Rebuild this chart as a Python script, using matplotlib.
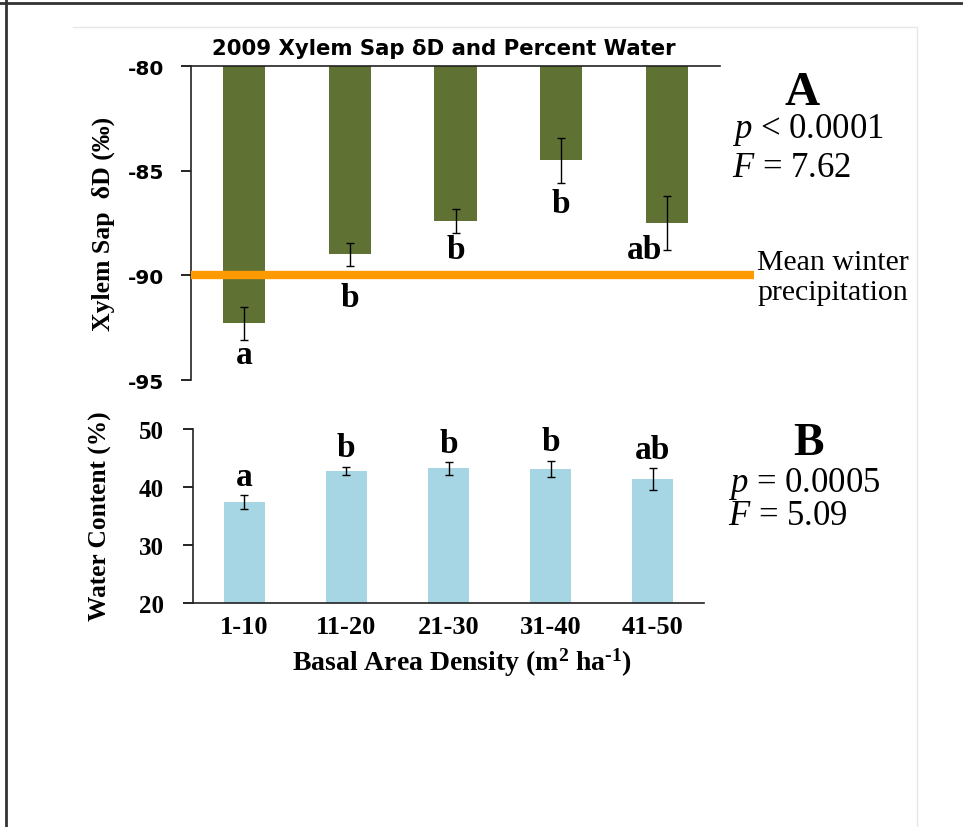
import numpy as np
import matplotlib
matplotlib.use('Agg')
import matplotlib.pyplot as plt
from matplotlib.lines import Line2D

# data
categories = ['1-10', '11-20', '21-30', '31-40', '41-50']
sap_dD = [-92.3, -89.0, -87.4, -84.5, -87.5]
sap_err = [0.8, 0.55, 0.57, 1.08, 1.3]
sap_groups = ['a', 'b', 'b', 'b', 'ab']
winter_precip = -90.0
water = [37.4, 42.8, 43.2, 43.1, 41.3]
water_err = [1.2, 0.7, 1.1, 1.4, 1.9]
water_groups = ['a', 'b', 'b', 'b', 'ab']

plt.rcParams['mathtext.fontset'] = 'custom'
plt.rcParams['mathtext.rm'] = 'Liberation Serif'
plt.rcParams['mathtext.it'] = 'Liberation Serif:italic'
plt.rcParams['mathtext.bf'] = 'Liberation Serif:bold'

W, H = 963, 828
def fx(px):
    return px / W
def fy(py):
    return 1 - py / H

serif = dict(family='Liberation Serif')
serif_b = dict(family='Liberation Serif', weight='bold')
sans_b = dict(family='DejaVu Sans', weight='bold')

fig = plt.figure(figsize=(9.63, 8.28), dpi=100)
x = np.arange(len(categories))

# ---- panel A
ax1 = fig.add_axes([fx(191), fy(381), 529 / W, 314 / H])
ax1.bar(x, np.array(sap_dD) + 80, bottom=-80, width=0.4, color='#607233', zorder=2)
ax1.errorbar(x, sap_dD, yerr=sap_err, fmt='none', ecolor='black', elinewidth=1,
             capsize=3, capthick=1, zorder=5)
ax1.plot([-0.5, 4.82], [winter_precip] * 2, color='#ff9900', lw=6, clip_on=False,
         solid_capstyle='butt', zorder=4)
ax1.set_xlim(-0.5, 4.5)
ax1.set_ylim(-95, -80)
ax1.set_xticks([])
ax1.set_yticks([-80, -85, -90, -95])
ax1.set_yticklabels(['-80', '-85', '-90', '-95'], fontdict=dict(size=14.5, **sans_b))
ax1.tick_params(axis='y', length=7, width=1.2, pad=12)
for s in ['right', 'bottom']:
    ax1.spines[s].set_visible(False)
for s in ['left', 'top']:
    ax1.spines[s].set_linewidth(1.2)
    ax1.spines[s].set_color('#222222')

offs = [(0, -14), (0, -32), (0, -17), (0, -21), (-23, 1)]
for i, g in enumerate(sap_groups):
    ax1.annotate(g, (x[i], sap_dD[i] - sap_err[i]), xytext=offs[i], textcoords='offset pixels',
                 ha='center', va='center', fontsize=24, zorder=6, **serif_b)

# ---- panel B
ax2 = fig.add_axes([fx(193), fy(604), 511 / W, 174 / H])
ax2.bar(x, water, width=0.4, color='#a6d6e3', zorder=2)
ax2.errorbar(x, water, yerr=water_err, fmt='none', ecolor='black', elinewidth=1,
             capsize=3, capthick=1, zorder=3)
ax2.set_xlim(-0.5, 4.5)
ax2.set_ylim(20, 50)
ax2.set_yticks([20, 30, 40, 50])
ax2.set_yticklabels(['20', '30', '40', '50'], fontdict=dict(size=18, **serif_b))
ax2.set_xticks(x)
ax2.set_xticklabels(categories, fontdict=dict(size=19, **serif_b))
ax2.tick_params(axis='y', length=7, width=1.2, pad=14)
ax2.tick_params(axis='x', length=0, pad=9)
for s in ['right', 'top']:
    ax2.spines[s].set_visible(False)
for s in ['left', 'bottom']:
    ax2.spines[s].set_linewidth(1.2)
    ax2.spines[s].set_color('#222222')

for i, g in enumerate(water_groups):
    ax2.annotate(g, (x[i], water[i] + water_err[i]), xytext=(0, 19), textcoords='offset pixels',
                 ha='center', va='center', fontsize=24, **serif_b)

# ---- labels and annotations
fig.text(fx(444), fy(55), '2009 Xylem Sap δD and Percent Water', ha='center', va='baseline',
         fontsize=15.3, **sans_b)
fig.text(fx(103), fy(224), 'Xylem Sap  δD (‰)', rotation=90, ha='center', va='center',
         fontsize=18.5, **serif_b)
fig.text(fx(100), fy(516), 'Water Content (%)', rotation=90, ha='center', va='center',
         fontsize=18.3, **serif_b)
fig.text(fx(462), fy(663), 'Basal Area Density (m$^{\\mathbf{2}}$ ha$^{\\mathbf{\u2010 1}}$)',
         ha='center', va='center', fontsize=20, **serif_b)

fig.text(fx(802), fy(105), 'A', ha='center', va='baseline', fontsize=35, **serif_b)
fig.text(fx(732), fy(138), '$p$ < 0.0001', ha='left', va='baseline', fontsize=25, **serif)
fig.text(fx(732), fy(177), '$F$ = 7.62', ha='left', va='baseline', fontsize=25, **serif)
fig.text(fx(757), fy(278), 'Mean winter\nprecipitation', ha='left', va='center', fontsize=21.5,
         linespacing=1.2, **serif)

fig.text(fx(808), fy(455), 'B', ha='center', va='baseline', fontsize=33, **serif_b)
fig.text(fx(728), fy(492), '$p$ = 0.0005', ha='left', va='baseline', fontsize=25, **serif)
fig.text(fx(728), fy(525), '$F$ = 5.09', ha='left', va='baseline', fontsize=25, **serif)

# screenshot frame
fig.add_artist(Line2D([0, 1], [fy(4)] * 2, color='#333333', lw=2))
fig.add_artist(Line2D([fx(6)] * 2, [0, 1], color='#333333', lw=2))
fig.add_artist(Line2D([fx(73), fx(917)], [fy(28)] * 2, color='#e6e6e6', lw=1))
fig.add_artist(Line2D([fx(917)] * 2, [fy(28), 0], color='#e6e6e6', lw=1))

fig.savefig('out.png', dpi=100)
